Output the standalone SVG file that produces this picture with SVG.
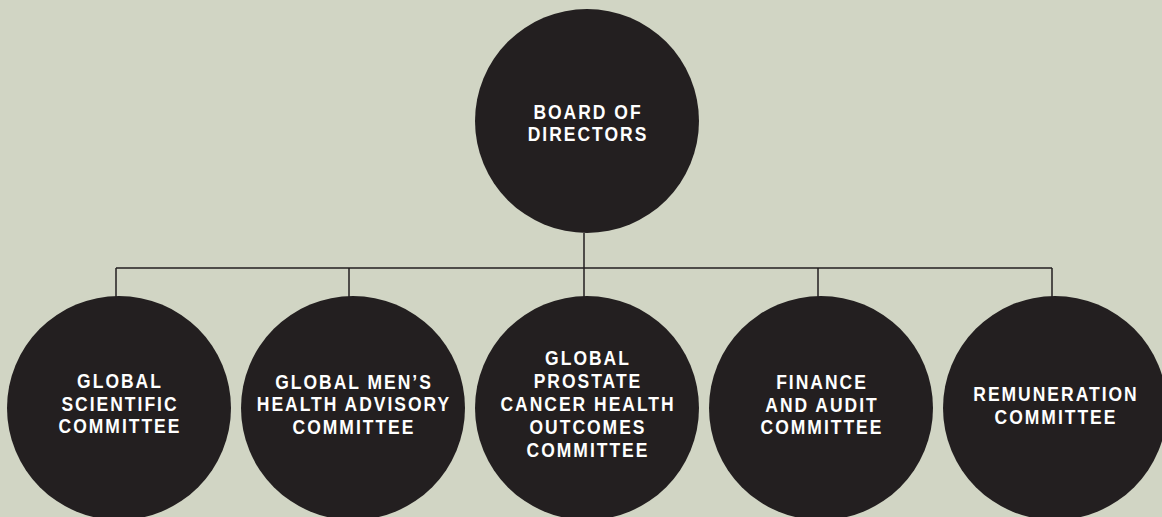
<svg xmlns="http://www.w3.org/2000/svg" width="1162" height="517" viewBox="0 0 1162 517">
<style>
.bg{fill:#d1d5c4}
.node{fill:#231f20}
.conn{stroke:#231f20;stroke-width:1.5;fill:none}
.lbl{fill:#ffffff;font-family:"Liberation Sans",Arial,sans-serif;font-weight:bold;font-size:21px;letter-spacing:2.4px;text-anchor:middle}
</style>
<rect class="bg" x="0" y="0" width="1162" height="517"/>
<g id="connectors">
<path class="conn" d="M584 233 V268 M116 268 H1052 M116 268 V297 M349 268 V297 M584 268 V297 M818 268 V297 M1052 268 V297"/>
</g>
<g id="board">
<circle class="node" cx="587" cy="121" r="112"/>
<text class="lbl" transform="matrix(0.833,0,0,1,588,0)"><tspan x="0" y="119">BOARD OF</tspan><tspan x="0" y="141.5">DIRECTORS</tspan></text>
</g>
<g id="scientific">
<circle class="node" cx="119" cy="408" r="112"/>
<text class="lbl" transform="matrix(0.833,0,0,1,120,0)"><tspan x="0" y="388.5">GLOBAL</tspan><tspan x="0" y="411">SCIENTIFIC</tspan><tspan x="0" y="433.5">COMMITTEE</tspan></text>
</g>
<g id="mens-health">
<circle class="node" cx="353" cy="408" r="112"/>
<text class="lbl" transform="matrix(0.833,0,0,1,354,0)"><tspan x="0" y="389">GLOBAL MEN’S</tspan><tspan x="0" y="411.5">HEALTH ADVISORY</tspan><tspan x="0" y="434">COMMITTEE</tspan></text>
</g>
<g id="prostate">
<circle class="node" cx="587" cy="408" r="112"/>
<text class="lbl" transform="matrix(0.833,0,0,1,588,0)"><tspan x="0" y="365">GLOBAL</tspan><tspan x="0" y="388">PROSTATE</tspan><tspan x="0" y="411">CANCER HEALTH</tspan><tspan x="0" y="434">OUTCOMES</tspan><tspan x="0" y="457">COMMITTEE</tspan></text>
</g>
<g id="finance">
<circle class="node" cx="821" cy="408" r="112"/>
<text class="lbl" transform="matrix(0.833,0,0,1,822,0)"><tspan x="0" y="389.5">FINANCE</tspan><tspan x="0" y="412">AND AUDIT</tspan><tspan x="0" y="434.5">COMMITTEE</tspan></text>
</g>
<g id="remuneration">
<circle class="node" cx="1055" cy="408" r="112"/>
<text class="lbl" transform="matrix(0.833,0,0,1,1056,0)"><tspan x="0" y="401.5">REMUNERATION</tspan><tspan x="0" y="424">COMMITTEE</tspan></text>
</g>
</svg>
